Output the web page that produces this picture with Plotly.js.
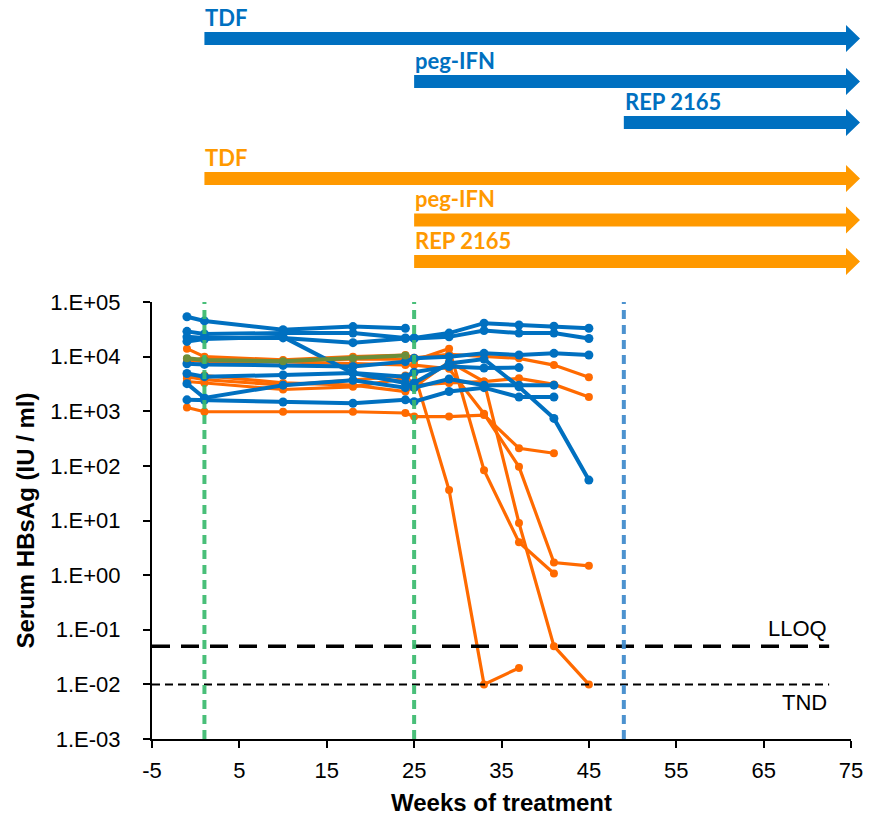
<!DOCTYPE html>
<html>
<head>
<meta charset="utf-8">
<script src="https://cdn.plot.ly/plotly-3.0.1.min.js"></script>
<style>html,body{margin:0;padding:0;background:#fff;}#chart{width:881px;height:819px;}</style>
</head>
<body>
<div id="chart"></div>
<script>
// ---------- DATA ----------
const weeks = [-1, 1, 10, 18, 24, 25, 29, 33, 37, 41, 45];

// Blue patients (serum HBsAg, IU/ml)
const blue1 = [53700, 45000, 31000, 35500, 33000, null, null, null, null, null, null];
const blue2 = [29000, 26000, 27000, 27000, 22000, 22000, 27000, 41000, 38000, 36000, 33000];
const blue3 = [23000, 22000, 22000, 18000, 21500, 21500, 23000, 30000, 27000, 27000, 21500];
const blue4 = [7400, 7200, 6900, 6600, 8100, 9300, 10000, 11500, 10700, 11500, 10700];
const blue5 = [4900, 4300, 4600, 5000, 4300, 5200, 6600, 6200, 6300, null, null];
const blue6 = [19000, 21000, 23000, 5000, 3300, 2700, 3900, 3000, 3000, 3000, null];
const blue7 = [1620, 1600, 1480, 1400, 1620, 1500, 2300, 2700, 1820, 1820, null];
const blue8 = [3200, 1750, 3000, 3700, 2700, 3300, 7500, 9000, 2800, 740, 55];

// Orange patients
const orange1 = [14000, 10000, 8700, 10000, 10700, 9500, 11000, 10000, 9300, 7000, 4200];
const orange2 = [4300, 3800, 3000, 3700, 4500, 3000, 3300, 3500, 4000, 3100, 1820];
const orange3 = [1170, 980, 980, 980, 930, 800, 800, 850, 210, 170, null];
const orange4 = [3500, 3300, 2500, 2800, 4000, 5000, 36, 0.01, 0.02, null, null];
const orange5 = [9000, 8000, 8000, 7500, 7000, 7000, 6000, 900, 96, 1.7, 1.48];
const orange6 = [8000, 9500, 8500, 9000, 9000, 8500, 14000, 83, 4, 1.07, null];
const orange7 = [4000, 4500, 3300, 3000, 2300, 2800, 8000, 3500, 9, 0.05, 0.01];

// Olive patient
const olive1 = [9300, 8700, 8200, 9300, 10500, null, null, null, null, null, null];

// Reference limits
const LLOQ = 0.05;
const TND = 0.01;
const refLineWeeks = [-5, 72.5];

// Treatment phase markers (weeks)
const greenPhaseWeeks = [1, 25];
const bluePhaseWeek = 49;

// Regimen arrows
const regimenLabels = ['TDF', 'peg-IFN', 'REP 2165'];
const blueStarts = [1, 25, 49];
const orangeStarts = [1, 25, 25];

// Axis ticks
const xTickVals = [-5, 5, 15, 25, 35, 45, 55, 65, 75];
const xTickText = ['-5', '5', '15', '25', '35', '45', '55', '65', '75'];
const yTickVals = [1e-3, 1e-2, 1e-1, 1e0, 1e1, 1e2, 1e3, 1e4, 1e5];
const yTickText = ['1.E-03', '1.E-02', '1.E-01', '1.E+00', '1.E+01', '1.E+02', '1.E+03', '1.E+04', '1.E+05'];

// ---------- STYLE ----------
const BLUE = '#0070C0';
const ORANGE = '#FF6A00';
const OLIVE = '#6B8E3A';
const ARROW_ORANGE = '#FF9900';
const GREEN_DASH = 'rgba(58,186,110,0.92)';
const BLUE_DASH = 'rgba(66,140,204,0.95)';

const W = 881, H = 819;
const M = {l: 152, r: 30, t: 302, b: 80};
const plotW = W - M.l - M.r, plotH = H - M.t - M.b;
const xMin = -5, xMax = 75;

const traces = [];
function series(vals, color, lw, ms) {
  traces.push({
    x: weeks, y: vals, type: 'scatter', mode: 'lines+markers',
    line: {color: color, width: lw}, marker: {color: color, size: ms},
    connectgaps: false, showlegend: false, hoverinfo: 'skip'
  });
}
[orange1, orange2, orange3, orange4, orange5, orange6, orange7].forEach(v => series(v, ORANGE, 3.2, 8));
[blue1, blue2, blue3, blue4, blue5, blue6, blue7, blue8].forEach(v => series(v, BLUE, 4, 9));
series(olive1, OLIVE, 4, 8);

// reference horizontal lines
traces.push({x: refLineWeeks, y: [LLOQ, LLOQ], mode: 'lines', type: 'scatter',
  line: {color: '#000', width: 3.5, dash: '18px,11px'}, showlegend: false, hoverinfo: 'skip'});
traces.push({x: refLineWeeks, y: [TND, TND], mode: 'lines', type: 'scatter',
  line: {color: '#000', width: 2, dash: '8px,5px'}, showlegend: false, hoverinfo: 'skip'});
// vertical phase lines
greenPhaseWeeks.forEach(w => traces.push({x: [w, w], y: [1e-3, 1e5], mode: 'lines', type: 'scatter',
  line: {color: GREEN_DASH, width: 4, dash: '9px,6px'}, showlegend: false, hoverinfo: 'skip'}));
traces.push({x: [bluePhaseWeek, bluePhaseWeek], y: [1e-3, 1e5], mode: 'lines', type: 'scatter',
  line: {color: BLUE_DASH, width: 4, dash: '9px,6px'}, showlegend: false, hoverinfo: 'skip'});

// ---------- ARROWS ----------
const xp = w => (w - xMin) / (xMax - xMin);           // week -> paper x
const pxX = px => (px - M.l) / plotW;                  // page px -> paper x
const pxY = py => (H - M.b - py) / plotH;              // page py -> paper y
const tipX = pxX(860), headX = pxX(846);
const shapes = [], annotations = [];
function arrow(startWeek, cy, color, label, labelBottom) {
  const x0 = xp(startWeek);
  const yt = pxY(cy - 6.5), yb = pxY(cy + 6.5), yht = pxY(cy - 13.5), yhb = pxY(cy + 13.5), yc = pxY(cy);
  shapes.push({type: 'path', xref: 'paper', yref: 'paper',
    path: `M ${x0},${yt} L ${headX},${yt} L ${headX},${yht} L ${tipX},${yc} L ${headX},${yhb} L ${headX},${yb} L ${x0},${yb} Z`,
    fillcolor: color, line: {width: 0}});
  annotations.push({xref: 'paper', yref: 'paper', x: x0, y: pxY(labelBottom), xanchor: 'left', yanchor: 'bottom',
    text: label, showarrow: false, borderpad: 0,
    font: {family: 'Lato, sans-serif', size: 22, color: color, weight: 'bold'}});
}
const blueArrowY = [38.5, 81.5, 122.5], blueLabelY = [32, 75, 116];
const orangeArrowY = [178.5, 220, 261.5], orangeLabelY = [172, 213, 255];
regimenLabels.forEach((lab, i) => arrow(blueStarts[i], blueArrowY[i], BLUE, '<b>' + lab + '</b>', blueLabelY[i]));
regimenLabels.forEach((lab, i) => arrow(orangeStarts[i], orangeArrowY[i], ARROW_ORANGE, '<b>' + lab + '</b>', orangeLabelY[i]));

annotations.push({xref: 'x', yref: 'y', x: 72.5, y: Math.log10(LLOQ), yshift: 18, xanchor: 'right', yanchor: 'middle',
  text: 'LLOQ', showarrow: false, font: {family: 'Liberation Sans, Arial, sans-serif', size: 22, color: '#000'}});
annotations.push({xref: 'x', yref: 'y', x: 72.5, y: Math.log10(TND), yshift: -18, xanchor: 'right', yanchor: 'middle',
  text: 'TND', showarrow: false, font: {family: 'Liberation Sans, Arial, sans-serif', size: 22, color: '#000'}});

const layout = {
  width: W, height: H, margin: M, paper_bgcolor: '#fff', plot_bgcolor: '#fff',
  showlegend: false,
  font: {family: 'Liberation Sans, Arial, sans-serif', color: '#000'},
  xaxis: {
    range: [xMin, xMax], tickvals: xTickVals, ticktext: xTickText, showgrid: false, zeroline: false,
    showline: true, linecolor: '#000', linewidth: 2, ticks: 'outside', ticklen: 7, tickwidth: 2, tickcolor: '#000',
    tickfont: {size: 22, color: '#000'}, ticklabelstandoff: 4,
    title: {text: '<b>Weeks of treatment</b>', font: {size: 24, color: '#000'}, standoff: 12}
  },
  yaxis: {
    type: 'log', range: [-3, 5], tickvals: yTickVals, ticktext: yTickText, showgrid: false, zeroline: false,
    showline: true, linecolor: '#000', linewidth: 2, ticks: 'outside', ticklen: 7, tickwidth: 2, tickcolor: '#000',
    tickfont: {size: 22, color: '#000'}, ticklabelstandoff: 18,
    title: {text: '<b>Serum HBsAg (IU / ml)</b>', font: {size: 24, color: '#000'}, standoff: 9}
  },
  shapes: shapes, annotations: annotations
};

Plotly.newPlot('chart', traces, layout, {staticPlot: true, displayModeBar: false});
</script>
</body>
</html>
